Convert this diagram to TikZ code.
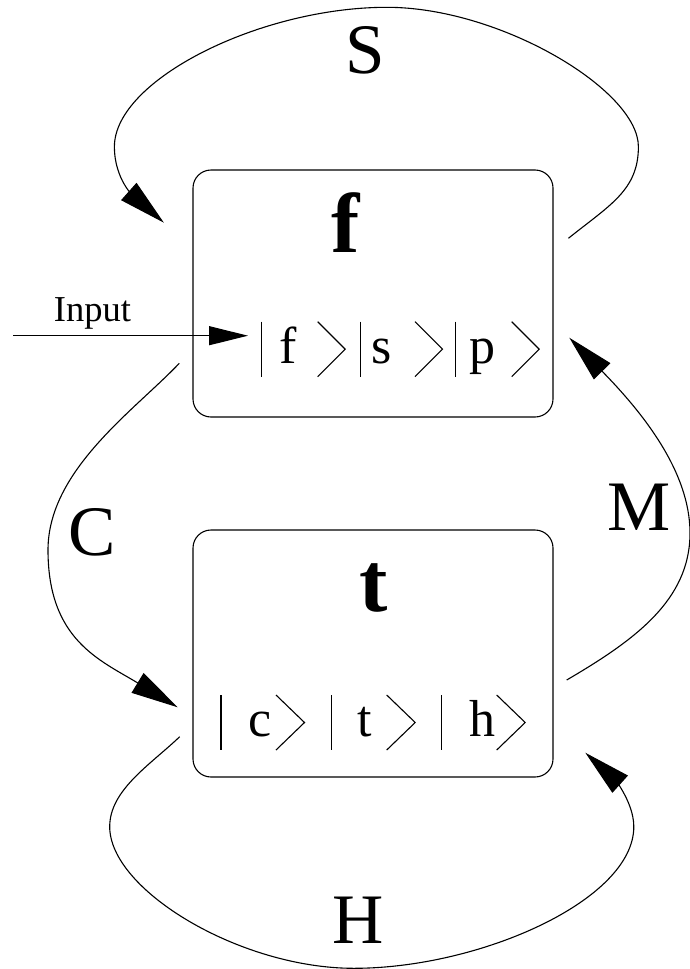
\documentclass[tikz,border=0pt]{standalone}
\usepackage{fontspec}
\setmainfont{Liberation Serif}
\usetikzlibrary{arrows.meta}
\tikzset{
  wire/.style={line width=1.1pt},
  flow/.style={wire,-{Triangle[length=47pt,width=23pt]}},
  feed/.style={wire,-{Triangle[length=39pt,width=19pt]}},
  unit/.style={draw,line width=1.1pt,rounded corners=18pt,minimum width=360pt,
    minimum height=247pt,inner sep=0pt},
  title/.style={font=\fontsize{85}{90}\selectfont\bfseries,inner sep=0pt,anchor=base west},
  op/.style={font=\fontsize{71}{80}\selectfont,inner sep=0pt,anchor=base},
  sym/.style={font=\fontsize{52}{60}\selectfont,inner sep=0pt,anchor=base},
  lbl/.style={font=\fontsize{36.5}{40}\selectfont,inner sep=0pt,anchor=base},
  ketline/.style={line width=1.1pt},
}
\begin{document}
\begin{tikzpicture}[x=1pt,y=-1pt]
\useasboundingbox (0,0) rectangle (690,969);

% the two units
\node[unit] (fbox) at (373,293.5) {};
\node[unit] (tbox) at (373,653.5) {};
\node[title] (ftitle) at (331,252.7) {f};
\node[title] (ttitle) at (359.5,611.7) {t};

% kets in the upper unit
\node[sym] (kf) at (288,363.3) {f};
\node[sym] (ks) at (382,363.3) {s};
\node[sym] (kp) at (482,363.3) {p};
\foreach \x in {261.7,360.7,455.7}
  \draw[ketline] (\x,321.7) -- (\x,376.7);
\foreach \x in {317.7,415,511.7}
  \draw[ketline] (\x,321.7) -- (\x+27.5,349.2) -- (\x,376.7);

% kets in the lower unit
\node[sym] (kc) at (260.5,736.7) {c};
\node[sym] (kt) at (365,736.7) {t};
\node[sym] (kh) at (482.5,736.7) {h};
\foreach \x in {221,331.7,441.7}
  \draw[ketline] (\x,695) -- (\x,750);
\foreach \x in {276,386.7,496.7}
  \draw[ketline] (\x,695) -- (\x+28.5,722.5) -- (\x,750);

% input line
\coordinate (src) at (13.3,335.7);
\coordinate (fin) at (248,335.7);
\draw[feed] (src) -- (fin);
\node[lbl] (inlbl) at (92.5,321.7) {Input};

% S loop over the upper unit
\coordinate (s0) at (568.4,238.3);
\coordinate (s1) at (638.4,146.7);
\coordinate (s2) at (387,7.3);
\coordinate (s3) at (114.4,146.7);
\coordinate (s4) at (163.9,222.7);
\draw[flow] (s0) .. controls (610,205) and (638.4,190) .. (s1)
  .. controls (638.4,90) and (500,7.3) .. (s2)
  .. controls (260,7.3) and (114.4,80) .. (s3)
  .. controls (114.4,180) and (135,197) .. (s4);
\node[op] (slbl) at (365.6,73) {S};

% C from upper to lower unit
\coordinate (c0) at (179.3,363.3);
\coordinate (c1) at (48,550);
\coordinate (c2) at (177.7,707.3);
\draw[flow] (c0) .. controls (135,410) and (48,470) .. (c1)
  .. controls (48,640) and (100,660) .. (c2);
\node[op] (clbl) at (92,555.5) {C};

% M from lower to upper unit
\coordinate (m0) at (566.7,680);
\coordinate (m1) at (690,533);
\coordinate (m2) at (569.3,337.7);
\draw[flow] (m0) .. controls (635,640) and (690,600) .. (m1)
  .. controls (690,470) and (640,410) .. (m2);
\node[op] (mlbl) at (639,530) {M};

% H loop under the lower unit
\coordinate (h0) at (179.7,736.7);
\coordinate (h1) at (109.7,826.7);
\coordinate (h2) at (353.8,968.3);
\coordinate (h3) at (633.8,826.7);
\coordinate (h4) at (585.3,752.7);
\draw[flow] (h0) .. controls (150,765) and (109.7,790) .. (h1)
  .. controls (109.7,890) and (240,968.3) .. (h2)
  .. controls (480,968.3) and (633.8,900) .. (h3)
  .. controls (633.8,800) and (610,775) .. (h4);
\node[op] (hlbl) at (358,943.3) {H};
\end{tikzpicture}
\end{document}
